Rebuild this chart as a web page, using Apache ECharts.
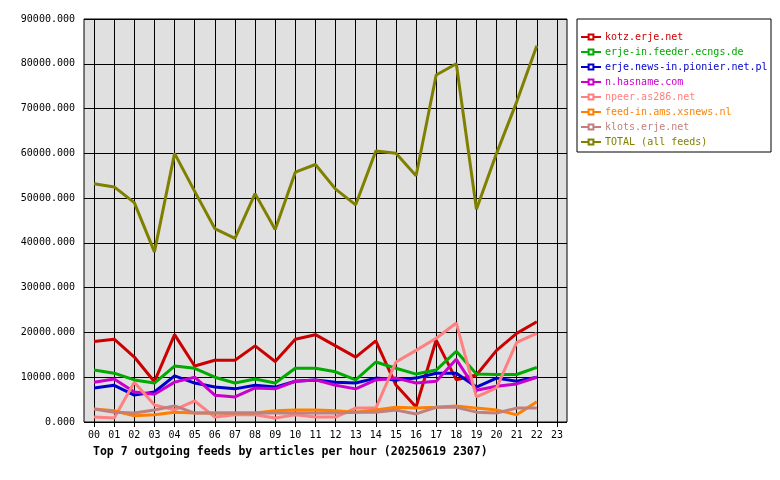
<!DOCTYPE html>
<html><head><meta charset="utf-8">
<script src="https://cdn.jsdelivr.net/npm/echarts@6/dist/echarts.min.js"></script>
<style>body{margin:0;background:#fff}#c{width:780px;height:480px}</style></head>
<body><div id="c"></div>
<script>
const hours = ['00','01','02','03','04','05','06','07','08','09','10','11','12','13','14','15','16','17','18','19','20','21','22','23'];
const names = ['kotz.erje.net','erje-in.feeder.ecngs.de','erje.news-in.pionier.net.pl','n.hasname.com','npeer.as286.net','feed-in.ams.xsnews.nl','klots.erje.net','TOTAL (all feeds)'];
const colors = ['#cc0000','#00aa00','#0000cc','#cc00cc','#ff8080','#ff8000','#c08080','#808000'];
const kotz   = [18000,18500,14500,9000,19500,12500,13800,13800,17000,13500,18500,19500,17000,14500,18100,8250,3350,18300,9400,10500,16000,19800,22400];
const ecngs  = [11600,10900,9400,8700,12500,12000,10000,8700,9600,8700,12000,12000,11200,9400,13400,12000,10700,11600,15800,10700,10600,10600,12200];
const pionier= [7600,8200,6000,6700,10300,8700,7800,7400,8200,7800,9100,9400,8900,8700,9800,9400,9800,10900,10900,7800,9800,9100,10000];
const hasname= [8900,9600,6700,6200,8900,10000,6000,5600,7600,7400,9100,9400,8200,7400,9400,9800,8700,9100,14000,7100,8000,8500,10000];
const npeer  = [1100,900,8900,3800,2700,4700,1100,1600,1600,900,1600,1100,1100,3100,3100,13400,16000,18700,22100,5600,7600,17800,19800];
const xsnews = [2900,2500,1400,1600,2200,2000,2000,2000,2000,2500,2700,2700,2500,2200,2700,3300,3100,3300,3600,3100,2700,1600,4500];
const klots  = [2900,2200,2000,2700,3600,2000,2000,2000,2000,2000,2000,2000,2000,2200,2200,2700,1800,3300,3300,2200,2000,3100,3100];
const total  = [53200,52500,49000,38000,60000,51500,43200,41000,51000,43000,55800,57500,52000,48500,60500,60000,55000,77500,80000,47500,60000,71500,84000];
const allData = [kotz,ecngs,pionier,hasname,npeer,xsnews,klots,total];
const font = 'DejaVu Sans Mono';
const chart = echarts.init(document.getElementById('c'));
const series = allData.map((d,i)=>({name:names[i],type:'line',color:colors[i],z:3,
    data:d,symbol:'emptyRect',symbolSize:3,showSymbol:false,
    lineStyle:{width:3,color:colors[i]},itemStyle:{color:colors[i]}}));
series[0].markLine = {silent:true,symbol:'none',label:{show:false},animation:false,z:1,
  lineStyle:{color:'#000',width:1,type:'solid'},emphasis:{disabled:true},
  data:hours.map(h=>({xAxis:h}))};
chart.setOption({
  animation:false,
  textStyle:{fontFamily:font},
  grid:{left:84,right:213,top:19,bottom:58,show:true,backgroundColor:'#e0e0e0',borderColor:'#000',borderWidth:1},
  xAxis:{type:'category',data:hours,boundaryGap:true,
    axisLine:{show:false},axisTick:{show:true,alignWithLabel:true,lineStyle:{color:'#000'},length:5},
    splitLine:{show:false},
    axisLabel:{fontFamily:font,fontSize:10,color:'#000',margin:8,interval:0}},
  yAxis:{type:'value',min:0,max:90000,interval:10000,
    axisLine:{show:false},axisTick:{show:false},
    splitLine:{lineStyle:{color:'#000',width:1}},
    axisLabel:{fontFamily:font,fontSize:10,color:'#000',margin:9,formatter:v=>v.toFixed(3)}},
  legend:{orient:'vertical',left:575,top:26,itemGap:3,itemWidth:20,itemHeight:6,
    data:names.map((n,i)=>({name:n,textStyle:{color:colors[i]}})),
    textStyle:{fontFamily:font,fontSize:10,lineHeight:12,padding:[0,0,0,-1]}},
  graphic:[{type:'rect',shape:{x:577,y:19,width:194,height:133},style:{fill:'none',stroke:'#000',lineWidth:1}},
    {type:'text',left:93,top:446,style:{text:'Top 7 outgoing feeds by articles per hour (20250619 2307)',font:'bold 11.5px "DejaVu Sans Mono"',fill:'#000'}}],
  series:series
});
</script></body></html>
